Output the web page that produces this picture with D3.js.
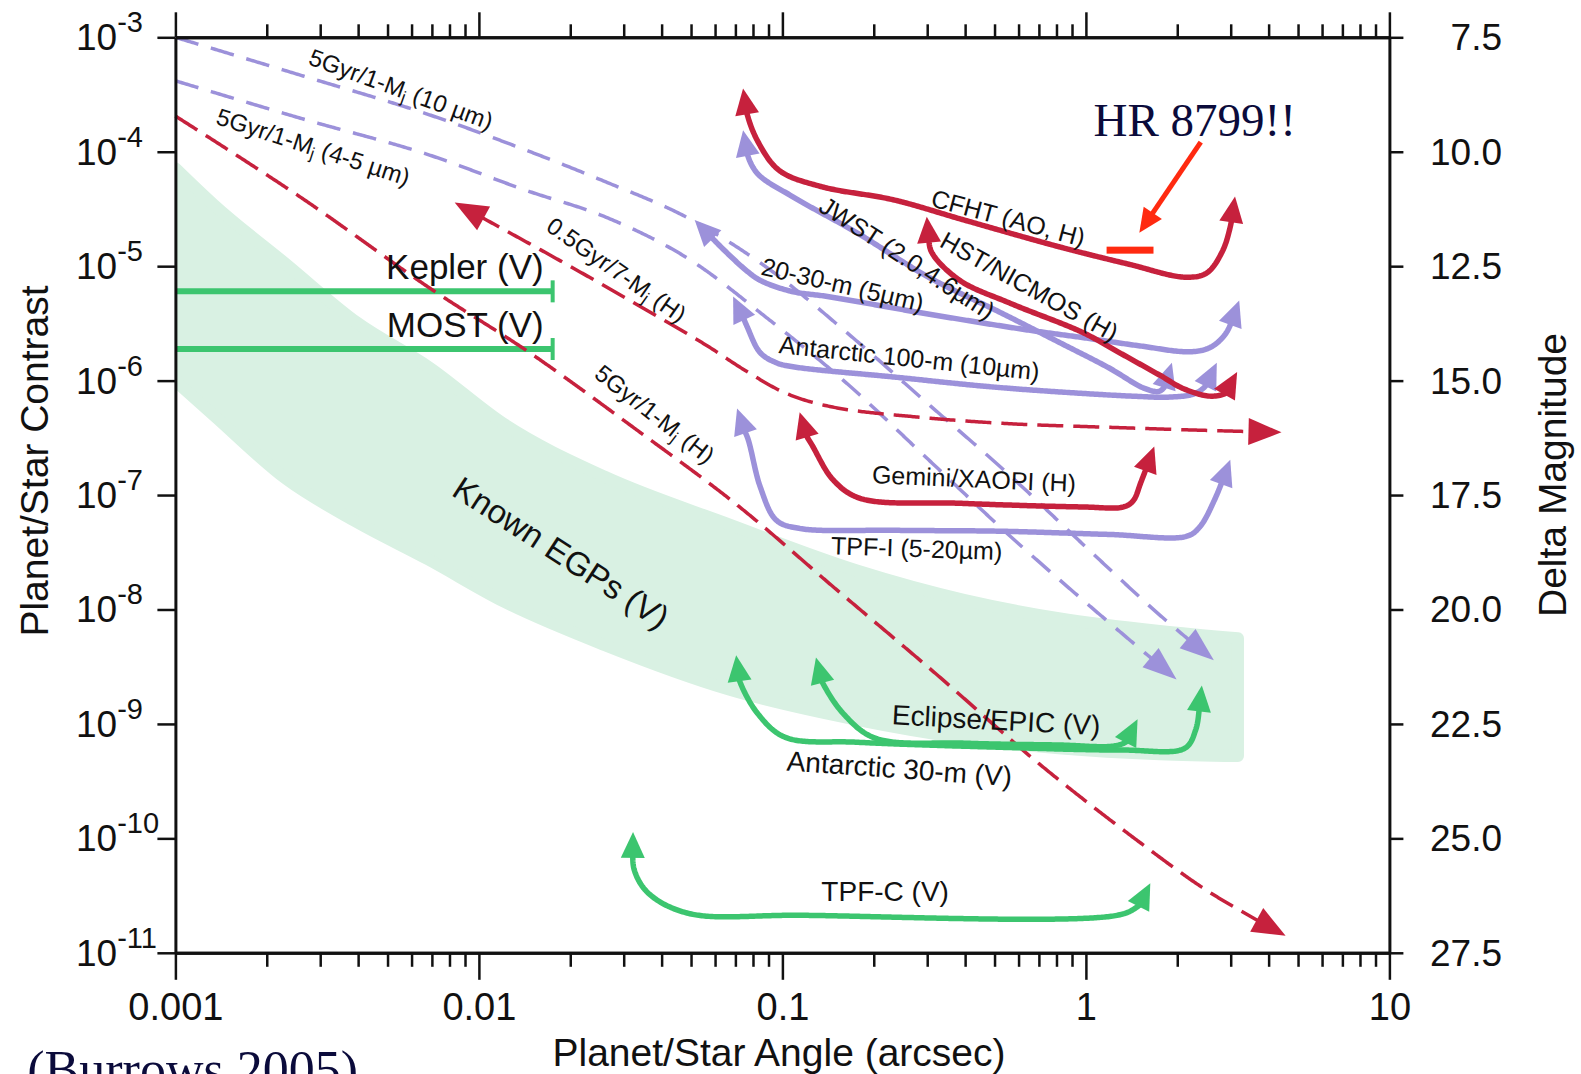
<!DOCTYPE html>
<html>
<head>
<meta charset="utf-8">
<script src="https://cdn.jsdelivr.net/npm/d3@7"></script>
<style>
  html, body { margin: 0; padding: 0; background: #fff; overflow: hidden; }
  svg { display: block; }
  text { font-family: "Liberation Sans", Arial, Helvetica, sans-serif; fill: #111; }
  text.serif { font-family: "Liberation Serif", "Times New Roman", serif; fill: #0b0b3b; }
</style>
</head>
<body>
<svg id="chart" width="1581" height="1074"></svg>
<script>
// ---------------- data ----------------
// x: planet/star angle (arcsec); y: delta magnitude (contrast = 10^(-dm/2.5))
const angleDecades = [0.001, 0.01, 0.1, 1, 10];
const angleTickLabels = ["0.001", "0.01", "0.1", "1", "10"];
const contrastDecades = [1e-3, 1e-4, 1e-5, 1e-6, 1e-7, 1e-8, 1e-9, 1e-10, 1e-11];
const contrastExponents = ["-3", "-4", "-5", "-6", "-7", "-8", "-9", "-10", "-11"];
const magnitudeTicks = [7.5, 10, 12.5, 15, 17.5, 20, 22.5, 25, 27.5];

// Known extrasolar giant planets band
const egpAngle    = [0.001, 0.00134, 0.00232, 0.00396, 0.00682, 0.0121, 0.0260, 0.0667, 0.176, 0.396, 0.813, 1.75, 3.17];
const egpUpperMag = [10.36, 11.16, 12.46, 13.73, 14.70, 15.95, 17.10, 18.14, 19.15, 19.79, 20.19, 20.47, 20.63];
const egpLowerMag = [15.01, 15.76, 17.15, 18.09, 18.91, 19.83, 20.78, 21.75, 22.41, 22.81, 23.03, 23.16, 23.20];

// Transit photometry missions
const photometryMissions = ["Kepler (V)", "MOST (V)"];
const photometryMaxAngle = [0.0175, 0.0175];
const photometryMag = [13.05, 14.31];

// Model planet tracks (dashed)
const fiveGyr10um = [[0.001,7.5],[0.00262,8.34],[0.00657,9.15],[0.0141,9.95],[0.0260,10.65],[0.0480,11.42],[0.0885,12.52],[0.163,13.95],[0.301,15.50],[0.555,17.04],[1.02,18.69],[1.75,20.12],[2.64,21.11]];
const fiveGyr45um = [[0.001,8.45],[0.00262,9.28],[0.00657,10.03],[0.0141,10.83],[0.0260,11.42],[0.0480,12.30],[0.0885,13.62],[0.163,15.06],[0.301,16.71],[0.555,18.36],[1.02,19.90],[1.99,21.53]];
const fiveGyrH    = [[0.001,9.22],[0.00262,11.02],[0.00682,12.96],[0.0147,14.39],[0.0327,16.05],[0.0704,17.70],[0.151,19.57],[0.325,21.44],[0.698,23.36],[1.50,25.08],[2.56,26.18],[4.55,27.13]];
const halfGyr7MjH = [[0.00832,11.11],[0.0184,12.37],[0.0322,13.29],[0.0559,14.22],[0.0759,14.79],[0.103,15.28],[0.147,15.58],[0.283,15.80],[0.555,15.94],[1.19,16.02],[2.56,16.09],[4.41,16.13]];

// Instrument sensitivity curves (solid)
const cfhtAO      = [[0.0742,8.62],[0.0759,9.09],[0.0826,9.75],[0.0977,10.41],[0.134,10.76],[0.232,11.05],[0.396,11.49],[0.820,12.08],[1.39,12.46],[2.12,12.74],[2.50,12.65],[2.81,12.19],[2.99,11.64],[3.10,10.98]];
const hstNicmos   = [[0.299,11.42],[0.303,11.80],[0.310,12.19],[0.384,12.81],[0.563,13.31],[0.977,13.95],[1.29,14.39],[1.75,14.88],[2.12,15.19],[2.62,15.34],[2.99,15.21],[3.15,14.81]];
const jwst        = [[0.0742,9.53],[0.0759,9.97],[0.0826,10.47],[0.108,10.98],[0.176,11.77],[0.303,12.74],[0.522,13.51],[0.820,14.17],[1.19,14.72],[1.56,15.17],[1.75,15.23],[1.86,15.01],[1.92,14.61]];
const elt2030m    = [[0.0514,11.49],[0.0604,11.97],[0.0657,12.21],[0.0759,12.59],[0.0845,12.81],[0.107,13.05],[0.140,13.16],[0.299,13.54],[0.637,13.89],[0.977,14.06],[1.50,14.24],[2.20,14.37],[2.56,14.28],[2.87,14.00],[3.06,13.62],[3.20,13.25]];
const antarctic100 = [[0.0688,13.16],[0.0731,13.51],[0.0765,13.82],[0.0845,14.39],[0.0955,14.61],[0.109,14.70],[0.232,14.92],[0.495,15.14],[0.977,15.28],[1.43,15.34],[1.89,15.36],[2.29,15.28],[2.52,15.06],[2.70,14.61]];
const geminiXAOPI = [[0.114,15.69],[0.117,16.05],[0.126,16.44],[0.147,17.17],[0.180,17.57],[0.384,17.68],[0.977,17.76],[1.33,17.76],[1.43,17.63],[1.52,17.21],[1.68,16.44]];
const tpfI        = [[0.0709,15.61],[0.0720,15.89],[0.0765,16.22],[0.0845,17.32],[0.0955,18.05],[0.114,18.23],[0.232,18.27],[0.522,18.29],[1.19,18.36],[2.15,18.40],[2.37,18.20],[2.66,17.59],[2.99,16.73]];
const eclipseEPIC = [[0.129,21.05],[0.131,21.33],[0.134,21.53],[0.158,22.26],[0.202,22.81],[0.396,22.92],[0.813,22.96],[1.24,22.98],[1.37,22.87],[1.43,22.65],[1.48,22.40]];
const antarctic30 = [[0.0704,21.00],[0.0709,21.27],[0.0720,21.53],[0.0826,22.26],[0.102,22.79],[0.176,22.90],[0.522,23.01],[1.32,23.07],[2.12,23.03],[2.30,22.63],[2.37,22.10],[2.41,21.66]];
const tpfC        = [[0.0322,24.86],[0.0322,25.14],[0.0325,25.69],[0.0362,26.20],[0.0491,26.64],[0.114,26.68],[1.27,26.68],[1.48,26.49],[1.60,26.24],[1.63,25.98]];

// HR 8799 detection marker
const hr8799Angle = [1.17, 1.67];
const hr8799Mag = 12.15;

// ---------------- layout ----------------
const RED = "#c6213d", PURPLE = "#9c91da", GREEN = "#3cc56f", BAND = "#d9f1e3";
const plot = { left: 175.4, right: 1389.4, top: 37.3, bottom: 952.8 };

const x = d3.scaleLog().domain([0.001, 10]).range([plot.left, plot.right]);
const yMag = d3.scaleLinear().domain([7.5, 27.5]).range([plot.top, plot.bottom]);
const yCon = d3.scaleLog().domain([1e-3, 1e-11]).range([plot.top, plot.bottom]);

const svg = d3.select("#chart");

svg.append("defs").append("clipPath").attr("id", "plotClip")
  .append("rect")
  .attr("x", plot.left).attr("y", plot.top)
  .attr("width", plot.right - plot.left).attr("height", plot.bottom - plot.top);

// Known EGPs band
const bandRows = egpAngle.map((a, i) => ({ a, hi: egpUpperMag[i], lo: egpLowerMag[i] }));
const bandArea = d3.area()
  .x(d => x(d.a)).y0(d => yMag(d.lo)).y1(d => yMag(d.hi))
  .curve(d3.curveMonotoneX);
svg.append("g").attr("clip-path", "url(#plotClip)")
  .append("path").attr("d", bandArea(bandRows))
  .attr("fill", BAND).attr("stroke", BAND)
  .attr("stroke-width", 12).attr("stroke-linejoin", "round");

// Kepler / MOST ranges
const phot = svg.append("g");
photometryMissions.forEach((name, i) => {
  const yy = yMag(photometryMag[i]);
  const xe = x(photometryMaxAngle[i]);
  phot.append("line").attr("x1", plot.left).attr("x2", xe).attr("y1", yy).attr("y2", yy)
    .attr("stroke", GREEN).attr("stroke-width", 6);
  phot.append("line").attr("x1", xe).attr("x2", xe).attr("y1", yy - 11).attr("y2", yy + 11)
    .attr("stroke", GREEN).attr("stroke-width", 4);
});

// curve drawing with arrow heads
const curveLayer = svg.append("g");
const smooth = d3.line().curve(d3.curveCatmullRom.alpha(0.5));

function triangle(tip, from, len, hw) {
  const dx = tip.x - from.x, dy = tip.y - from.y;
  const d = Math.hypot(dx, dy) || 1;
  const ux = dx / d, uy = dy / d;
  const bx = tip.x - ux * len, by = tip.y - uy * len;
  return [[tip.x, tip.y], [bx - uy * hw, by + ux * hw], [bx + uy * hw, by - ux * hw]];
}

function drawCurve(pts, o) {
  const px = pts.map(p => [x(p[0]), yMag(p[1])]);
  const probe = curveLayer.append("path").attr("d", smooth(px)).attr("fill", "none");
  const node = probe.node();
  const L = node.getTotalLength();
  const cut0 = o.startArrow ? o.len * 0.75 : 0;
  const cut1 = o.endArrow ? o.len * 0.75 : 0;
  const samples = [];
  for (let l = cut0; l < L - cut1; l += 1.5) {
    const p = node.getPointAtLength(l);
    samples.push([p.x, p.y]);
  }
  const pe = node.getPointAtLength(L - cut1);
  samples.push([pe.x, pe.y]);
  const heads = [];
  if (o.startArrow) heads.push(triangle(node.getPointAtLength(0), node.getPointAtLength(o.len), o.len, o.hw));
  if (o.endArrow) heads.push(triangle(node.getPointAtLength(L), node.getPointAtLength(L - o.len), o.len, o.hw));
  probe.remove();
  curveLayer.append("path").attr("d", d3.line()(samples))
    .attr("fill", "none").attr("stroke", o.color).attr("stroke-width", o.width)
    .attr("stroke-linejoin", "round")
    .attr("stroke-linecap", o.dash ? "butt" : "round")
    .attr("stroke-dasharray", o.dash || null);
  heads.forEach(h => {
    curveLayer.append("path").attr("d", "M" + h.join("L") + "Z").attr("fill", o.color);
  });
}

// dashed model tracks
drawCurve(fiveGyr10um, { color: PURPLE, width: 3.5, dash: "24,13", endArrow: true, len: 34, hw: 12.5 });
drawCurve(fiveGyr45um, { color: PURPLE, width: 3.5, dash: "24,13", endArrow: true, len: 34, hw: 12.5 });
drawCurve(fiveGyrH,    { color: RED, width: 3.5, dash: "26,10", endArrow: true, len: 33, hw: 13.5 });
drawCurve(halfGyr7MjH, { color: RED, width: 3.5, dash: "26,10", startArrow: true, endArrow: true, len: 33, hw: 13.5 });

// instrument curves
const solid = { width: 5.5, startArrow: true, endArrow: true, len: 26, hw: 12 };
drawCurve(cfhtAO,       Object.assign({ color: RED }, solid));
drawCurve(elt2030m,     Object.assign({ color: PURPLE }, solid));
drawCurve(antarctic100, Object.assign({ color: PURPLE }, solid));
drawCurve(jwst,         Object.assign({ color: PURPLE }, solid));
drawCurve(hstNicmos,    Object.assign({ color: RED }, solid));
drawCurve(tpfI,         Object.assign({ color: PURPLE }, solid));
drawCurve(geminiXAOPI,  Object.assign({ color: RED }, solid));
drawCurve(antarctic30,  Object.assign({ color: GREEN }, solid));
drawCurve(eclipseEPIC,  Object.assign({ color: GREEN }, solid));
drawCurve(tpfC,         Object.assign({ color: GREEN }, solid));

// ---------------- labels ----------------
const curveLabels = [
  { text: "5Gyr/1-M_j (10 \u00b5m)", a: 0.00555, m: 8.62, rot: 20, size: 24 },
  { text: "5Gyr/1-M_j (4-5 \u00b5m)", a: 0.00285, m: 9.88, rot: 18, size: 24 },
  { text: "0.5Gyr/7-M_j (H)", a: 0.0285, m: 12.57, rot: 35, size: 24 },
  { text: "5Gyr/1-M_j (H)", a: 0.0381, m: 15.72, rot: 38, size: 24 },
  { text: "CFHT (AO, H)", a: 0.555, m: 11.44, rot: 15, size: 25 },
  { text: "JWST (2.0,4.6\u00b5m)", a: 0.258, m: 12.32, rot: 33, size: 25 },
  { text: "HST/NICMOS (H)", a: 0.652, m: 12.94, rot: 29, size: 25 },
  { text: "20-30-m (5\u00b5m)", a: 0.158, m: 12.90, rot: 13, size: 25 },
  { text: "Antarctic 100-m (10\u00b5m)", a: 0.262, m: 14.50, rot: 6, size: 25 },
  { text: "Gemini/XAOPI (H)", a: 0.428, m: 17.14, rot: 2.5, size: 25 },
  { text: "TPF-I (5-20\u00b5m)", a: 0.277, m: 18.66, rot: 2, size: 25 },
  { text: "Known EGPs (V)", a: 0.0187, m: 18.75, rot: 33, size: 33 },
  { text: "Eclipse/EPIC (V)", a: 0.506, m: 22.41, rot: 3, size: 28 },
  { text: "Antarctic 30-m (V)", a: 0.243, m: 23.47, rot: 4, size: 28 },
  { text: "TPF-C (V)", a: 0.218, m: 26.16, rot: 0, size: 28 }
];

function richText(sel, str, size) {
  const parts = str.split("_j");
  sel.append("tspan").text(parts[0]);
  if (parts.length > 1) {
    sel.append("tspan").attr("font-size", size * 0.7).attr("dy", size * 0.3).text("j");
    sel.append("tspan").attr("dy", -size * 0.3).text(parts[1]);
  }
}

const labelLayer = svg.append("g");
curveLabels.forEach(l => {
  const t = labelLayer.append("text")
    .attr("transform", `translate(${x(l.a)},${yMag(l.m)}) rotate(${l.rot})`)
    .attr("text-anchor", "middle").attr("dominant-baseline", "central")
    .attr("font-size", l.size);
  richText(t, l.text, l.size);
});

// Kepler / MOST labels
photometryMissions.forEach((name, i) => {
  labelLayer.append("text")
    .attr("x", x(photometryMaxAngle[i]) - 9).attr("y", yMag(photometryMag[i]) - 12)
    .attr("text-anchor", "end").attr("font-size", 35).text(name);
});

// ---------------- axes ----------------
const axes = svg.append("g");
const minorAngles = x.ticks().filter(v => !angleDecades.some(d => Math.abs(v / d - 1) < 1e-6));

function styleAxis(g) {
  g.select(".domain").attr("stroke", "#111").attr("stroke-width", 3);
  g.selectAll(".tick line").attr("stroke", "#111").attr("stroke-width", 2.5);
}

// bottom
axes.append("g").attr("transform", `translate(0,${plot.bottom})`)
  .call(d3.axisBottom(x).tickValues(angleDecades).tickSize(27).tickSizeOuter(0).tickPadding(13)
    .tickFormat((d, i) => angleTickLabels[i]))
  .call(styleAxis)
  .call(g => g.selectAll(".tick text").attr("font-size", 38).attr("fill", "#111"));
axes.append("g").attr("transform", `translate(0,${plot.bottom})`)
  .call(d3.axisBottom(x).tickValues(minorAngles).tickSize(14).tickSizeOuter(0).tickFormat(""))
  .call(styleAxis);

// top
axes.append("g").attr("transform", `translate(0,${plot.top})`)
  .call(d3.axisTop(x).tickValues(angleDecades).tickSize(25).tickSizeOuter(0).tickFormat(""))
  .call(styleAxis);
axes.append("g").attr("transform", `translate(0,${plot.top})`)
  .call(d3.axisTop(x).tickValues(minorAngles).tickSize(13).tickSizeOuter(0).tickFormat(""))
  .call(styleAxis);

// left (contrast)
axes.append("g").attr("transform", `translate(${plot.left},0)`)
  .call(d3.axisLeft(yCon).tickValues(contrastDecades).tickSize(18).tickSizeOuter(0).tickFormat(""))
  .call(styleAxis);
contrastDecades.forEach((c, i) => {
  const t = axes.append("text").attr("x", 76).attr("y", yCon(c) + 13).attr("font-size", 37);
  t.append("tspan").text("10");
  t.append("tspan").attr("font-size", 29).attr("dy", -18).text(contrastExponents[i]);
});

// right (delta magnitude)
axes.append("g").attr("transform", `translate(${plot.right},0)`)
  .call(d3.axisRight(yMag).tickValues(magnitudeTicks).tickSize(14).tickSizeOuter(0).tickFormat(""))
  .call(styleAxis);
magnitudeTicks.forEach(m => {
  axes.append("text").attr("x", 1502).attr("y", yMag(m) + 13)
    .attr("text-anchor", "end").attr("font-size", 37).text(d3.format(".1f")(m));
});

// axis titles
axes.append("text").attr("transform", `translate(48,461) rotate(-90)`)
  .attr("text-anchor", "middle").attr("font-size", 39).text("Planet/Star Contrast");
axes.append("text").attr("transform", `translate(1566,475) rotate(-90)`)
  .attr("text-anchor", "middle").attr("font-size", 39).text("Delta Magnitude");
axes.append("text").attr("x", 779).attr("y", 1066)
  .attr("text-anchor", "middle").attr("font-size", 39).text("Planet/Star Angle (arcsec)");

// ---------------- HR 8799 annotation ----------------
const note = svg.append("g");
const HR = "#ff2a10";
note.append("rect")
  .attr("x", x(hr8799Angle[0])).attr("y", yMag(hr8799Mag) - 3.5)
  .attr("width", x(hr8799Angle[1]) - x(hr8799Angle[0])).attr("height", 7)
  .attr("fill", HR);
const tail = { x: x(2.39), y: yMag(9.79) };
const tip = { x: x(1.50), y: yMag(11.77) };
{
  const dx = tip.x - tail.x, dy = tip.y - tail.y, d = Math.hypot(dx, dy);
  const end = { x: tip.x - dx / d * 18, y: tip.y - dy / d * 18 };
  note.append("line").attr("x1", tail.x).attr("y1", tail.y).attr("x2", end.x).attr("y2", end.y)
    .attr("stroke", HR).attr("stroke-width", 5);
  note.append("path").attr("d", "M" + triangle(tip, tail, 24, 11).join("L") + "Z").attr("fill", HR);
}
note.append("text").attr("class", "serif")
  .attr("x", x(1.06)).attr("y", yMag(9.66))
  .attr("font-size", 47)
  .text("HR 8799!!");

// citation
svg.append("text").attr("class", "serif")
  .attr("x", 358).attr("y", 1087).attr("text-anchor", "end")
  .attr("font-size", 52)
  .text("(Burrows 2005)");
</script>
</body>
</html>
